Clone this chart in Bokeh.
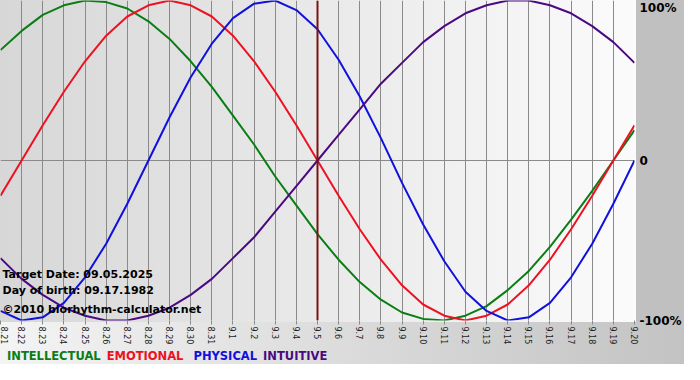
import math
from bokeh.plotting import figure
from bokeh.models import FixedTicker, Span, Label, Div
from bokeh.layouts import column
from bokeh.embed import file_html
from bokeh.resources import INLINE

# ---- data ----
dates = ["8.21", "8.22", "8.23", "8.24", "8.25", "8.26", "8.27", "8.28", "8.29", "8.30", "8.31",
         "9.1", "9.2", "9.3", "9.4", "9.5", "9.6", "9.7", "9.8", "9.9", "9.10",
         "9.11", "9.12", "9.13", "9.14", "9.15", "9.16", "9.17", "9.18", "9.19", "9.20"]
intellectual = [69, 81, 91, 97, 100, 99, 95, 87, 76, 62, 46, 28, 10, -10, -28, -46, -62, -76,
                -87, -95, -99, -100, -97, -91, -81, -69, -54, -37, -19, 0, 19]
emotional = [-22, 0, 22, 43, 62, 78, 90, 97, 100, 97, 90, 78, 62, 43, 22, 0, -22, -43, -62,
             -78, -90, -97, -100, -97, -90, -78, -62, -43, -22, 0, 22]
physical = [-94, -100, -98, -89, -73, -52, -27, 0, 27, 52, 73, 89, 98, 100, 94, 82, 63, 40, 14,
            -14, -40, -63, -82, -94, -100, -98, -89, -73, -52, -27, 0]
intuitive = [-61, -74, -84, -92, -97, -100, -100, -97, -92, -84, -74, -61, -48, -32, -16, 0, 16,
             32, 48, 61, 74, 84, 92, 97, 100, 100, 97, 92, 84, 74, 61]
target_index = 15  # 9.5
y_values = [-100, 0, 100]
y_tick_labels = ["-100%", "0", "100%"]
series_names = ["INTELLECTUAL", "EMOTIONAL", "PHYSICAL", "INTUITIVE"]
series_colors = ["#0a7d14", "#ee1122", "#1111dd", "#4b0a82"]
info_texts = ["Target Date: 09.05.2025", "Day of birth: 09.17.1982", "\u00a92010 biorhythm-calculator.net"]
info_y = [-71.5, -81.5, -93.0]

FONT = "DejaVu Sans"
W = 684
FRAME_H = 322
BOTTOM = 25
FIG_H = FRAME_H + BOTTOM
RIGHT = 48
FRAME_W = W - RIGHT
DIV_H = 364 - FIG_H
TOP_LABEL_DROP_PX = 7  # the reference draws "100%" just inside the top edge

fig_bg = (f"linear-gradient(to right, #d7d7d7, #fbfbfb) 0px 0px / {FRAME_W}px {FRAME_H}px no-repeat, "
          f"linear-gradient(to right, #f4f4f4, #c3c3c3) 0px {FRAME_H}px / {W}px {BOTTOM}px no-repeat, "
          "#c0c0c0")

xs = list(range(len(dates)))
y0, y1 = -100, 100
units_per_px = (y1 - y0) / FRAME_H

p = figure(width=W, height=FIG_H, x_range=(0, len(dates) - 1), y_range=(y0, y1),
           output_backend="svg", toolbar_location=None, y_axis_location="right",
           min_border_left=0, min_border_top=0, min_border_right=RIGHT,
           min_border_bottom=BOTTOM, styles={"background": fig_bg})
p.border_fill_alpha = 0
p.background_fill_alpha = 0
p.outline_line_color = None

# grids
p.xgrid.ticker = FixedTicker(ticks=xs)
p.xgrid.grid_line_color = "#8a8a8a"
p.xgrid.grid_line_width = 1
p.ygrid.ticker = FixedTicker(ticks=[0])
p.ygrid.grid_line_color = "#8a8a8a"

# x axis
xa = p.xaxis[0]
xa.ticker = FixedTicker(ticks=xs)
xa.major_label_overrides = {i: d for i, d in enumerate(dates)}
xa.major_label_orientation = -math.pi / 2
xa.major_label_text_font = FONT
xa.major_label_text_font_size = "8px"
xa.major_label_text_color = "#222222"
xa.major_label_standoff = 2
xa.axis_line_color = None
xa.major_tick_line_color = "#8a8a8a"
xa.major_tick_out = 4
xa.major_tick_in = 0
xa.minor_tick_line_color = None

# y axis (right); the top label is placed a few px inside the edge so it is not cut
tick_pos = [v if v < y1 else v - TOP_LABEL_DROP_PX * units_per_px for v in y_values]
ya = p.yaxis[0]
ya.ticker = FixedTicker(ticks=tick_pos)
ya.major_label_overrides = {t: l for t, l in zip(tick_pos, y_tick_labels)}
ya.major_label_text_font = FONT
ya.major_label_text_font_size = "12px"
ya.major_label_text_font_style = "bold"
ya.major_label_text_color = "#000000"
ya.major_label_standoff = 5
ya.major_tick_out = 0
ya.major_tick_in = 0
ya.axis_line_color = None
ya.major_tick_line_color = None
ya.minor_tick_line_color = None

for vals, col in zip([intellectual, emotional, physical, intuitive], series_colors):
    p.line(xs, vals, line_color=col, line_width=2)

p.add_layout(Span(location=target_index, dimension="height", line_color="#7a1212", line_width=2))

for t, yv in zip(info_texts, info_y):
    p.add_layout(Label(x=0, y=yv, x_offset=2, text=t, text_font=FONT, text_font_size="11px",
                       text_font_style="bold", text_color="#000000", text_baseline="alphabetic"))

spans = []
for i, (n, c) in enumerate(zip(series_names, series_colors)):
    mr = "10px" if i == 1 else "6px"
    spans.append(f'<span style="color:{c};margin-right:{mr}">{n}</span>')
legend_html = ('<div style="font-family:\'DejaVu Sans\';font-weight:bold;font-size:11.5px;'
               'line-height:16px;padding:1px 0 0 7px;white-space:nowrap;">' + "".join(spans) + "</div>")
div = Div(text=legend_html, width=W, height=DIV_H, margin=(0, 0, 0, 0),
          styles={"background": "linear-gradient(to right, #f4f4f4, #c3c3c3)"})

layout = column(p, div, spacing=0)

open("out.html", "w").write(file_html(layout, INLINE))
